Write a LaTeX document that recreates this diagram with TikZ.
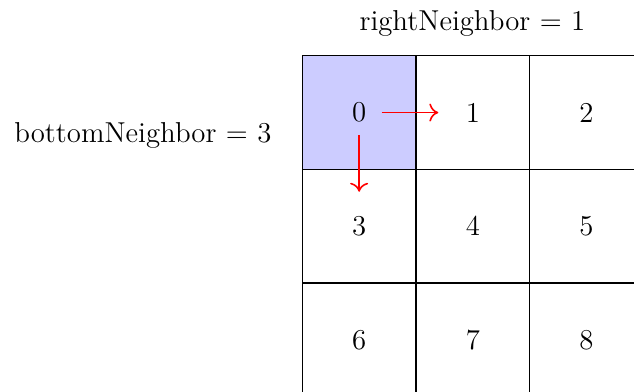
\documentclass[tikz,border=0pt]{standalone}
\usetikzlibrary{arrows.meta}
\definecolor{cellblue}{RGB}{204,204,255}
\begin{document}
\begin{tikzpicture}[x=0.5pt,y=-0.5pt,
  every node/.style={font=\fontsize{14.4}{17}\selectfont},
  cellbox/.style={draw=black,line width=0.75pt,minimum width=56.85pt,minimum height=56.85pt,inner sep=0pt,anchor=center},
  nbarrow/.style={draw=red,line width=0.8pt,-{To[length=4.5pt,width=9pt]}},
  lbl/.style={anchor=base,inner sep=0pt}]
\useasboundingbox (0,0) rectangle (634,392);
\clip (0,0) rectangle (634,392);
\node[cellbox,fill=cellblue] (c0) at (359.15,112.55) {0};
\node[cellbox] (c1) at (472.85,112.55) {1};
\node[cellbox] (c2) at (586.55,112.55) {2};
\node[cellbox] (c3) at (359.15,226.25) {3};
\node[cellbox] (c4) at (472.85,226.25) {4};
\node[cellbox] (c5) at (586.55,226.25) {5};
\node[cellbox] (c6) at (359.15,339.95) {6};
\node[cellbox] (c7) at (472.85,339.95) {7};
\node[cellbox] (c8) at (586.55,339.95) {8};
\node[lbl] (rn) at (472.4,30.7) {rightNeighbor = 1};
\node[lbl] (bn) at (142.9,142.3) {bottomNeighbor = 3};
\draw[nbarrow] ([xshift=11.25pt]c0.center) -- ([xshift=-17.25pt]c1.center);
\draw[nbarrow] ([yshift=-11.25pt]c0.center) -- ([yshift=17.25pt]c3.center);
\end{tikzpicture}
\end{document}
